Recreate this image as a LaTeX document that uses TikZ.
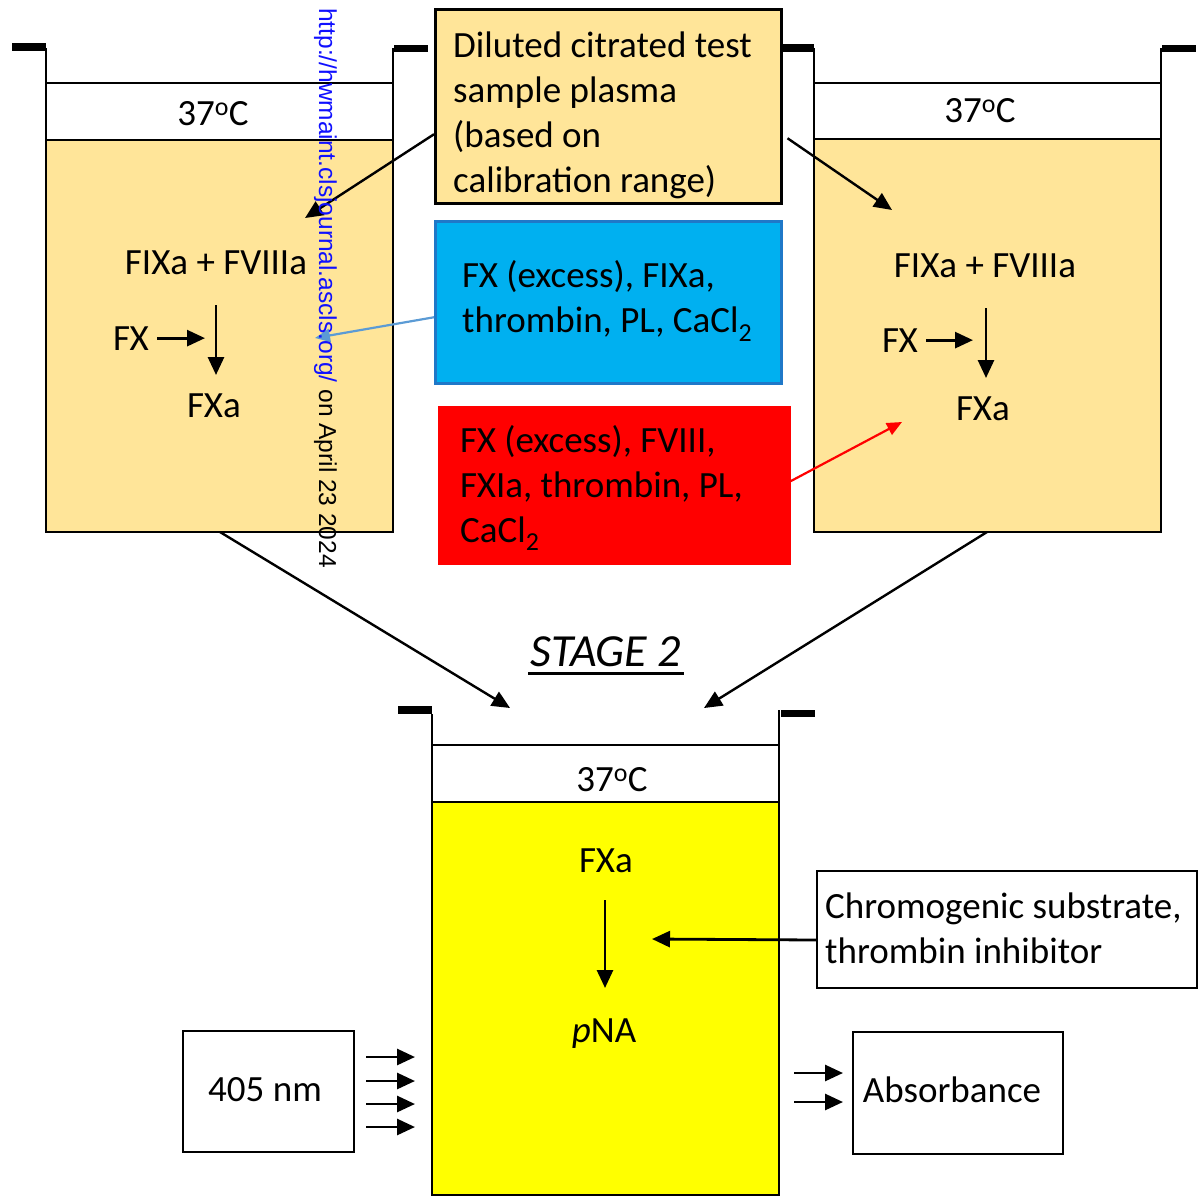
\documentclass[tikz,border=0pt]{standalone}
\usepackage{fontspec}
\setmainfont{Carlito}
\newfontfamily\wmfont{Liberation Sans}
\usetikzlibrary{arrows.meta}
\definecolor{tanfill}{HTML}{FFE599}
\definecolor{skyb}{HTML}{00B0F0}
\definecolor{skyedge}{HTML}{1F78C8}
\definecolor{lineblue}{HTML}{5B9BD5}
\definecolor{wmblue}{HTML}{1010FF}
\definecolor{cuvyellow}{HTML}{FFFF00}
\begin{document}
\begin{tikzpicture}[x=1pt,y=-1pt,
  txt/.style={font=\fontsize{37}{45}\selectfont, inner sep=0pt},
  mtxt/.style={txt, align=left, anchor=west},
  boxn/.style={draw, line width=2.5pt, anchor=north west, inner sep=0pt},
  wall/.style={line width=2.5pt},
  rim/.style={line width=1.6pt},
  arr/.style={line width=2.8pt, -{Triangle[length=18pt,width=16pt]}},
  darr/.style={line width=2.4pt, -{Triangle[length=18pt,width=16pt]}},
  thinarr/.style={line width=2.2pt, -{Triangle[length=15pt,width=13pt]}}
]
\useasboundingbox (0,0) rectangle (1204,1197);

% ---------- left cuvette ----------
\draw[rim] (46,83) -- (46,48);
\draw[rim] (393,83) -- (393,48);
\fill (12,43) rectangle (46,51);
\fill (394,45) rectangle (428,52);
\draw[wall, fill=tanfill] (46,140) rectangle (393,532);
\draw[wall, fill=white] (46,83) rectangle (393,140);
\node[txt, anchor=base] (ltemp) at (213,125) {37\textsuperscript{o}C};
\node[txt, anchor=base] (lfix) at (216,274) {FIXa + FVIIIa};
\node[txt, anchor=base] (lfx) at (131,350) {FX};
\node[txt, anchor=base] (lfxa) at (214,417) {FXa};
\coordinate (lfxend) at (205,337);
\coordinate (lvtop) at (216,305);
\coordinate (lvbot) at (216,375);
\coordinate (lcb) at (220,532);
\coordinate (ltip) at (305,218);
\coordinate (lbtip) at (315,338);

% ---------- right cuvette ----------
\draw[rim] (814,83) -- (814,48);
\draw[rim] (1161,83) -- (1161,48);
\fill (780,44) rectangle (814,52);
\fill (1162,45) rectangle (1196,52);
\draw[wall, fill=tanfill] (814,139) rectangle (1161,532);
\draw[wall, fill=white] (814,83) rectangle (1161,139);
\node[txt, anchor=base] (rtemp) at (980,122) {37\textsuperscript{o}C};
\node[txt, anchor=base] (rfix) at (985,277) {FIXa + FVIIIa};
\node[txt, anchor=base] (rfx) at (900,352) {FX};
\node[txt, anchor=base] (rfxa) at (983,420) {FXa};
\coordinate (rfxend) at (973,340);
\coordinate (rvtop) at (986,308);
\coordinate (rvbot) at (986,378);
\coordinate (rcb) at (987,532);
\coordinate (rtip) at (892,210);
\coordinate (rrtip) at (902,422);

% ---------- bottom cuvette ----------
\draw[rim] (432,745) -- (432,714);
\draw[rim] (779,745) -- (779,710);
\fill (398,706) rectangle (432,714);
\fill (781,710) rectangle (815,717);
\draw[wall, fill=cuvyellow] (432,802) rectangle (779,1195);
\draw[wall, fill=white] (432,745) rectangle (779,802);
\node[txt, anchor=base] (btemp) at (612,791) {37\textsuperscript{o}C};
\node[txt, anchor=base] (bfxa) at (606,872) {FXa};
\node[txt, anchor=base] (bpna) at (604,1042) {\textit{p}NA};
\coordinate (bvtop) at (605,900);
\coordinate (bvbot) at (605,988);
\coordinate (bltip) at (510,708);
\coordinate (brtip) at (704,708);
\coordinate (chtip) at (652,939);

% ---------- STAGE 2 ----------
\node[txt, anchor=base, font=\fontsize{46}{50}\selectfont] (stage) at (606,666) {\textit{STAGE 2}};
\draw[line width=3pt] (528,673) -- (684,673);

% ---------- reagent boxes ----------
\node[boxn, fill=tanfill, minimum width=346pt, minimum height=194pt] (topbox) at (434,8) {};
\node[mtxt] (toptext) at (453,115) {Diluted citrated test\\sample plasma\\(based on\\calibration range)};

\node[boxn, fill=skyb, draw=skyedge, minimum width=346pt, minimum height=162pt] (bluebox) at (434,220) {};
\node[mtxt] (bluetext) at (462,301) {FX (excess), FIXa,\\thrombin, PL, CaCl\textsubscript{2}};

\node[boxn, fill=red, draw=red, minimum width=350pt, minimum height=156pt] (redbox) at (438,406) {};
\node[mtxt] (redtext) at (460,488) {FX (excess), FVIII,\\FXIa, thrombin, PL,\\CaCl\textsubscript{2}};

\node[boxn, line width=2pt, minimum width=380pt, minimum height=117pt] (chbox) at (816,870) {};
\node[mtxt] (chtext) at (825,928) {Chromogenic substrate,\\thrombin inhibitor};

\node[boxn, line width=2pt, minimum width=171pt, minimum height=121pt] (lambox) at (182,1030) {};
\node[txt] (lamtext) at (265,1090) {405 nm};

\node[boxn, line width=2pt, minimum width=210pt, minimum height=122pt] (absbox) at (852,1031) {};
\node[txt] (abstext) at (952,1090) {Absorbance};

% ---------- connectors ----------
\draw[arr] (lfx.east) ++(8,0) -- (lfxend |- lfx.east);
\draw[arr] (lvtop) -- (lvbot);
\draw[arr] (rfx.east) ++(8,0) -- (rfxend |- rfx.east);
\draw[arr] (rvtop) -- (rvbot);
\draw[arr] (bvtop) -- (bvbot);

\draw[darr] ([yshift=-28pt]topbox.west) -- (ltip);
\draw[darr] ([xshift=5pt,yshift=-32pt]topbox.east) -- (rtip);
\draw[thinarr, draw=lineblue, fill=lineblue] ([yshift=-15pt]bluebox.west) -- (lbtip);
\draw[thinarr, draw=red, fill=red] ([yshift=4pt]redbox.east) -- (rrtip);

\draw[darr] (lcb) -- (bltip);
\draw[darr] (rcb) -- (brtip);
\draw[arr] ([yshift=-10.5pt]chbox.west) -- (chtip);

\foreach \yy/\nm in {1057/la, 1081/lb, 1104/lc, 1127/ld}{
  \coordinate (\nm s) at (366,\yy);
  \coordinate (\nm e) at (415,\yy);
  \draw[arr] (\nm s) -- (\nm e);
}
\foreach \yy/\nm in {1073/aa, 1102/ab}{
  \coordinate (\nm s) at (794,\yy);
  \coordinate (\nm e) at (843,\yy);
  \draw[arr] (\nm s) -- (\nm e);
}

% ---------- watermark ----------
\node[rotate=-90, anchor=base west, inner sep=0pt,
      font=\wmfont\fontsize{24.5}{24.5}\selectfont] (wm) at (319,8)
  {\textcolor{wmblue}{http://hwmaint.clsjournal.ascls.org/} on April 23 2024};
\end{tikzpicture}
\end{document}
